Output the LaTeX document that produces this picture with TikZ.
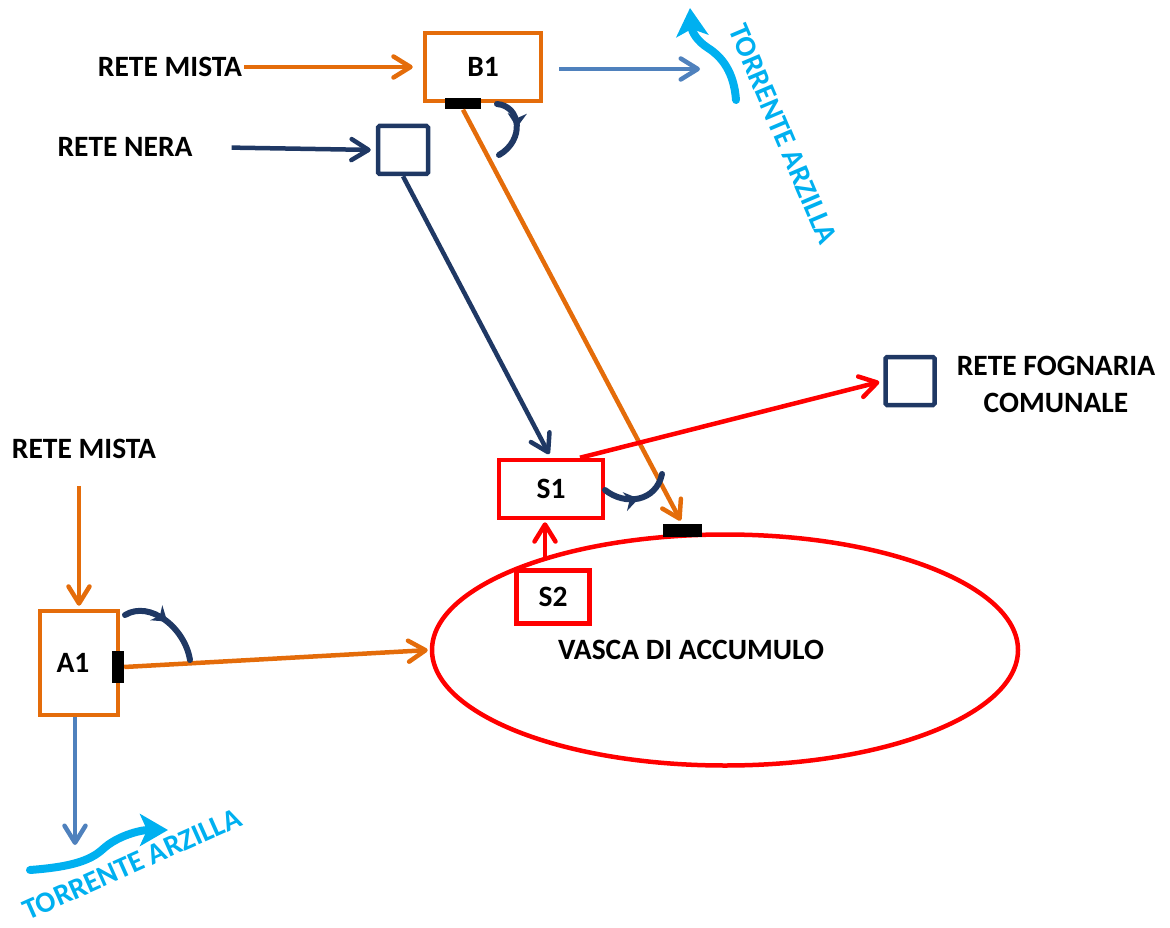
\documentclass[tikz,border=0pt]{standalone}
\usepackage{fontspec}
\setmainfont{Carlito}
\usepackage{xcolor}
\usepackage{tikz}
\usetikzlibrary{shapes.geometric, arrows.meta, positioning, decorations.markings}
\definecolor{mistaorange}{RGB}{228,108,10}
\definecolor{neranavy}{RGB}{31,56,100}
\definecolor{scaricoblue}{RGB}{79,129,189}
\definecolor{torrentecyan}{RGB}{0,176,240}
\definecolor{vascared}{RGB}{255,0,0}
\tikzset{
  lbl/.style={font=\fontsize{29.5}{37}\selectfont\bfseries, align=center, inner sep=2pt},
  box/.style={rectangle, draw, line width=4.5pt, fill=white, lbl, inner sep=0pt},
  mistabox/.style={box, draw=mistaorange},
  vascabox/.style={box, draw=vascared},
  nerabox/.style={box, draw=neranavy, rounded corners=1.5pt},
  paratoia/.style={rectangle, fill=black, inner sep=0pt},
  freccia/.style={-{Straight Barb[length=17pt, width=21pt, line cap=round, line join=round]}, line width=4.5pt},
  mistaarrow/.style={freccia, draw=mistaorange},
  neraarrow/.style={freccia, draw=neranavy},
  scaricoarrow/.style={freccia, draw=scaricoblue},
  vascaarrow/.style={freccia, draw=vascared},
  torrente/.style={-{Stealth[length=28pt, width=32pt, inset=7pt]}, line width=8pt,
    draw=torrentecyan, line cap=round},
  apertura/.style={line width=6pt, draw=neranavy, line cap=round, postaction={decorate},
    decoration={markings, mark=at position 0.5 with {\arrow[neranavy]{Stealth[length=14pt, width=19pt]}}}},
}

\begin{document}
\begin{tikzpicture}[x=1pt, y=-1pt]
  \useasboundingbox (0,0) rectangle (1170,928);
  \node[mistabox, minimum width=116pt, minimum height=68pt] (b1) at (483,67) {B1};
  \node[paratoia, minimum width=36pt, minimum height=11pt] (b1bar) at (463,104) {};
  \node[lbl] (mistaB) at (170,67) {RETE MISTA};
  \node[lbl] (nera) at (125,147) {RETE NERA};
  \node[nerabox, minimum width=50pt, minimum height=48pt] (nerasq) at (403,150) {};
  \node[draw=vascared, line width=4.5pt, ellipse, minimum width=586pt, minimum height=231pt,
    inner sep=0pt] (vasca) at (725,650) {};
  \node[lbl] (vascatxt) at (691,650) {VASCA DI ACCUMULO};
  \node[paratoia, minimum width=39pt, minimum height=13pt] (vbar) at (682,530) {};
  \node[vascabox, minimum width=104pt, minimum height=58pt] (s1) at (551,489) {S1};
  \node[vascabox, minimum width=73pt, minimum height=53pt] (s2) at (553,597) {S2};
  \node[nerabox, minimum width=49pt, minimum height=48pt] (fognasq) at (910,381) {};
  \node[lbl] (fogna) at (1056,384) {RETE FOGNARIA\\COMUNALE};
  \node[lbl] (mistaA) at (84,449) {RETE MISTA};
  \node[mistabox, minimum width=78pt, minimum height=104pt] (a1) at (79,663) {\hspace*{-12pt}A1};
  \node[paratoia, minimum width=12pt, minimum height=32pt] (a1bar) at (118,667) {};
  \node[lbl, text=torrentecyan, rotate=-67] (torrB) at (783,134) {TORRENTE ARZILLA};
  \node[lbl, text=torrentecyan, rotate=24] (torrA) at (132,864) {TORRENTE ARZILLA};
  \coordinate (scaricoB) at (700,69);
  \coordinate (scaricoA) at (75,845);

  \draw[mistaarrow, shorten >=10pt] (mistaB.east) -- (b1.west);
  \draw[neraarrow, shorten <=37pt, shorten >=5pt] (nera.east) -- (nerasq.west);
  \draw[scaricoarrow, shorten <=16pt] (b1.east |- scaricoB) -- (scaricoB);
  \draw[mistaarrow, shorten >=3pt] (b1bar.south) -- (vbar.north);
  \draw[neraarrow, shorten >=4pt] (nerasq.south) -- (s1.north);
  \draw[vascaarrow, shorten >=4pt] ([xshift=29pt]s1.north) -- (fognasq.west);
  \draw[vascaarrow, shorten >=2pt] ([xshift=-8pt, yshift=11pt]s2.north) -- ([xshift=-6pt]s1.south);
  \draw[mistaarrow, shorten >=2pt] (a1bar.east) -- (vasca.west);
  \draw[mistaarrow, shorten <=25pt, shorten >=3pt] (mistaA.south -| a1.north) -- (a1.north);
  \draw[scaricoarrow] (a1.south -| scaricoA) -- (scaricoA);

  \draw[apertura] (497,104) .. controls (521,106) and (525,140) .. (499,155);
  \draw[apertura] (605,490) .. controls (625,506) and (656,502) .. (662,474);
  \draw[apertura] (125,615) .. controls (150,600) and (185,628) .. (190,660);

  \draw[torrente] (736,100) .. controls (734,72) and (722,57) .. (708,48)
    .. controls (697,41) and (692,32) .. (690,8);
  \draw[torrente] (30,870) .. controls (70,867) and (90,861) .. (103,849)
    .. controls (117,836) and (140,830) .. (168,830);
\end{tikzpicture}
\end{document}
